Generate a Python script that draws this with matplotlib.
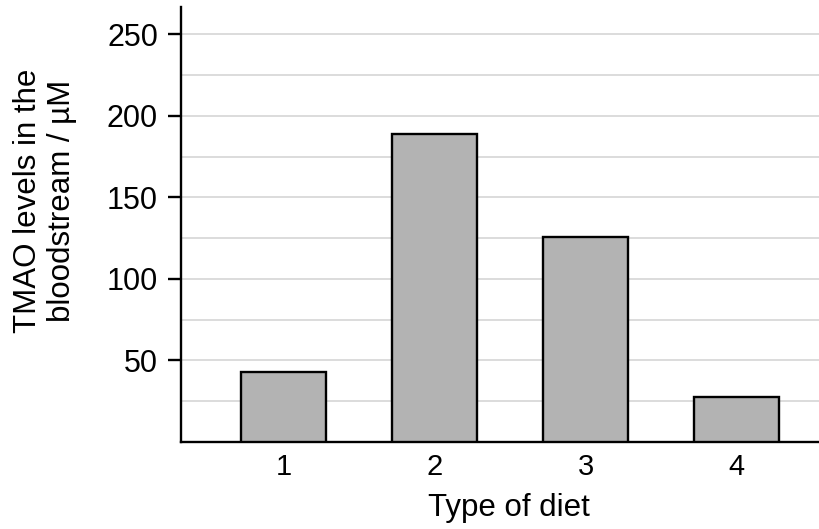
import matplotlib.pyplot as plt
import numpy as np

plt.rcParams['font.family'] = ['Liberation Sans', 'DejaVu Sans']

# data
diets = ['1', '2', '3', '4']
tmao = [43, 189, 126, 27.4]
yticks = [50, 100, 150, 200, 250]

fig = plt.figure(figsize=(8.2, 5.29), dpi=100)
ax = fig.add_axes([0.2207, 0.1645, 0.7793, 0.8217])

x = np.arange(1, len(diets) + 1)
ax.bar(x, tmao, width=0.563, color='#b3b3b3', edgecolor='black', linewidth=1.7, zorder=3)

# light grid every 25
for g in range(25, 275, 25):
    ax.axhline(g, color='#d9d9d9', linewidth=1.3, zorder=1)

ax.set_xlim(0.318, 4.551)
ax.set_ylim(0, 266.6)
ax.set_xticks(x)
ax.set_xticklabels(diets, fontsize=21)
ax.set_yticks(yticks)
ax.set_yticklabels([str(t) for t in yticks], fontsize=22)
ax.tick_params(axis='x', length=0, pad=8)
ax.tick_params(axis='y', length=9.5, width=1.7, pad=7)

ax.spines['top'].set_visible(False)
ax.spines['right'].set_visible(False)
ax.spines['left'].set_linewidth(1.7)
ax.spines['bottom'].set_linewidth(1.7)

fig.text(0.6204, 0.012, 'Type of diet', fontsize=22.5, ha='center', va='bottom')
fig.text(0.055, 0.62, 'TMAO levels in the\nbloodstream / µM', fontsize=22.5,
         rotation=90, ha='center', va='center', multialignment='center')

fig.savefig('out.png', dpi=100)
